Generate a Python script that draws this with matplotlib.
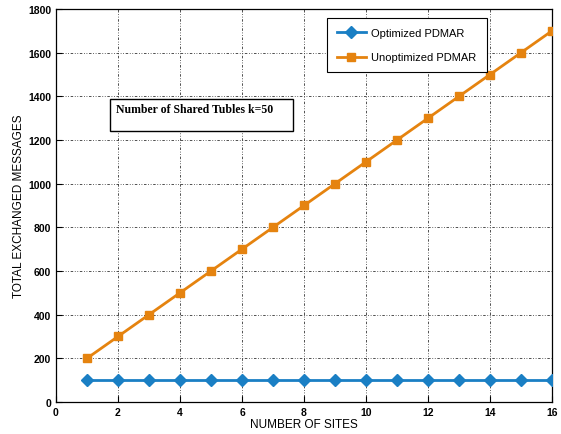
import matplotlib
matplotlib.use("Agg")
import matplotlib.pyplot as plt
from matplotlib.patches import Rectangle

sites = list(range(1, 17))
optimized = [100] * 16
unoptimized = [200, 300, 400, 500, 600, 700, 800, 900, 1000, 1100, 1200, 1300, 1400, 1500, 1600, 1700]
xticks = [0, 2, 4, 6, 8, 10, 12, 14, 16]
yticks = [0, 200, 400, 600, 800, 1000, 1200, 1400, 1600, 1800]

plt.rcParams['font.family'] = ['Liberation Sans', 'DejaVu Sans']

fig = plt.figure(figsize=(5.61, 4.35), dpi=100)
ax = fig.add_axes([0.0998, 0.0736, 0.8842, 0.9034])

ax.plot(sites, optimized, color='#1a7fc4', lw=2.0, marker='D', ms=6,
        label='Optimized PDMAR', zorder=3)
ax.plot(sites, unoptimized, color='#e5830f', lw=2.0, marker='s', ms=5.5,
        label='Unoptimized PDMAR', zorder=3)

ax.set_xlim(0, 16)
ax.set_ylim(0, 1800)
ax.set_xticks(xticks)
ax.set_yticks(yticks)
ax.tick_params(direction='in', length=4, labelsize=7.5, width=0.8)
for lab in ax.get_xticklabels() + ax.get_yticklabels():
    lab.set_fontweight('bold')
ax.grid(True, color='#333333', linestyle=(0, (1, 2, 1, 2, 3, 2)), linewidth=0.6)
for s in ax.spines.values():
    s.set_linewidth(0.9)

ax.set_xlabel('NUMBER OF SITES', fontsize=8.5, labelpad=1)
ax.set_ylabel('TOTAL EXCHANGED MESSAGES', fontsize=8.5, labelpad=2)

leg = ax.legend(loc='upper left', bbox_to_anchor=(0.546, 0.977), fontsize=8,
                fancybox=False, edgecolor='black', framealpha=1,
                handlelength=2.6, borderpad=0.9, labelspacing=1.3,
                handletextpad=0.5, borderaxespad=0)
leg.get_frame().set_linewidth(0.8)

# annotation box
ax.add_patch(Rectangle((0.109, 0.689), 0.369, 0.081, transform=ax.transAxes,
                       facecolor='white', edgecolor='black', lw=1.0, zorder=4))
ax.text(0.121, 0.745, 'Number of Shared Tubles k=50', transform=ax.transAxes,
        family=['Liberation Serif', 'DejaVu Serif'], fontweight='bold', fontsize=8.5,
        va='center', ha='left', zorder=5)

fig.savefig('out.png', dpi=100)
